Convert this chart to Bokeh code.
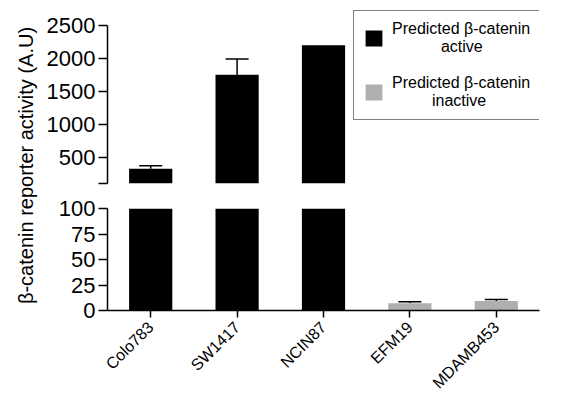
import math
from bokeh.plotting import figure
from bokeh.models import (FactorRange, Range1d, FixedTicker, Legend, LegendItem,
                          Label, Whisker, ColumnDataSource, TeeHead, CDSView, BooleanFilter)
from bokeh.layouts import row, column
from bokeh.embed import file_html
from bokeh.resources import INLINE

categories = ["Colo783", "SW1417", "NCIN87", "EFM19", "MDAMB453"]
values = [325, 1750, 2200, 7.0, 9.2]
errors = [45, 240, 0, 1.7, 1.7]
groups = ["active", "active", "active", "inactive", "inactive"]
upper_ticks = [100, 500, 1000, 1500, 2000, 2500]
lower_ticks = [0, 25, 50, 75, 100]
break_value = 100
upper_max = 2500
NB = "\u00a0"
legend_labels = ["Predicted \u03b2-catenin\n" + NB * 11 + "active",
                 "Predicted \u03b2-catenin\n" + NB * 9 + "inactive"]
y_label = "\u03b2-catenin reporter activity (A.U)"

FONT = "Liberation Sans"
group_colors = {"active": "#000000", "inactive": "#afafaf"}

bar_src = ColumnDataSource(dict(
    x=categories, top=values,
    color=[group_colors[g] for g in groups],
))

def whisker_source(sel):
    idx = [i for i in range(len(categories)) if sel(values[i]) and errors[i] > 0]
    return ColumnDataSource(dict(
        base=[categories[i] for i in idx],
        lower=[values[i] for i in idx],
        upper=[values[i] + errors[i] for i in idx],
    ))

xr = FactorRange(factors=categories, range_padding=0)

def style_axis(ax, size):
    ax.axis_line_width = 1.5
    ax.axis_line_color = "black"
    ax.major_tick_line_width = 1.5
    ax.major_tick_line_color = "black"
    ax.major_tick_in = 0
    ax.minor_tick_line_color = None
    ax.major_label_text_font = FONT
    ax.major_label_text_font_size = size
    ax.major_label_text_color = "black"

def add_parts(p, sel):
    view = CDSView(filter=BooleanFilter([sel(v) or v >= break_value for v in values]))
    p.vbar(x="x", top="top", bottom=0, width=0.5, source=bar_src, view=view,
           fill_color="color", line_color=None)
    w = Whisker(base="base", lower="lower", upper="upper", source=whisker_source(sel),
                dimension="height", line_width=1.5, line_color="black",
                upper_head=TeeHead(size=23, line_width=1.5, line_color="black"),
                lower_head=None)
    p.add_layout(w)
    p.grid.grid_line_color = None
    p.outline_line_color = None

# upper panel (frame extends a little above the axis so the legend fits)
top = figure(width=520, height=196, x_range=xr, y_range=Range1d(break_value, 2758),
             output_backend="svg", toolbar_location=None, x_axis_location=None,
             min_border_left=69, min_border_right=19, min_border_top=8, min_border_bottom=13)
add_parts(top, lambda v: v >= break_value)
# renderer used only for the legend swatches
r_leg = top.vbar(x="x", top="top", bottom=0, width=0.5, source=bar_src,
                 fill_color="color", line_color=None, visible=False)
top.yaxis.ticker = FixedTicker(ticks=upper_ticks)
top.yaxis.bounds = (break_value, upper_max)
top.yaxis.major_label_overrides = {100: ""}
style_axis(top.yaxis[0], "22px")
top.yaxis.major_tick_out = 9
top.yaxis.major_label_standoff = 3

legend = Legend(items=[LegendItem(label=legend_labels[0], renderers=[r_leg], index=0),
                       LegendItem(label=legend_labels[1], renderers=[r_leg], index=3)],
                location=(246, 63), border_line_color="black", border_line_width=1,
                padding=9, spacing=18, glyph_width=21, glyph_height=20, label_standoff=8,
                label_text_font=FONT, label_text_font_size="16px",
                label_text_align="left", label_text_color="black",
                background_fill_color="white", background_fill_alpha=1, margin=0)
top.add_layout(legend)

# lower panel
bottom = figure(width=520, height=204, x_range=xr, y_range=Range1d(0, break_value),
                output_backend="svg", toolbar_location=None,
                min_border_left=69, min_border_right=19, min_border_top=12, min_border_bottom=88)
add_parts(bottom, lambda v: v < break_value)
bottom.yaxis.ticker = FixedTicker(ticks=lower_ticks)
style_axis(bottom.yaxis[0], "22px")
bottom.yaxis.major_tick_out = 9
bottom.yaxis.major_label_standoff = 3
style_axis(bottom.xaxis[0], "16px")
bottom.xaxis.major_tick_out = 7
bottom.xaxis.major_label_orientation = math.pi / 4
bottom.xaxis.major_label_standoff = 7

# shared y-axis title
lf = figure(width=38, height=400, output_backend="svg", toolbar_location=None,
            x_axis_location=None, y_axis_location=None, min_border=0,
            x_range=Range1d(0, 1), y_range=Range1d(0, 1))
lf.grid.visible = False
lf.outline_line_color = None
lf.add_layout(Label(x=25, y=235, x_units="screen", y_units="screen", text=y_label,
                    angle=math.pi / 2, text_align="center", text_baseline="middle",
                    text_font=FONT, text_font_size="20px", text_color="black"))

layout = row(lf, column(top, bottom))
open("out.html", "w").write(file_html(layout, INLINE))
